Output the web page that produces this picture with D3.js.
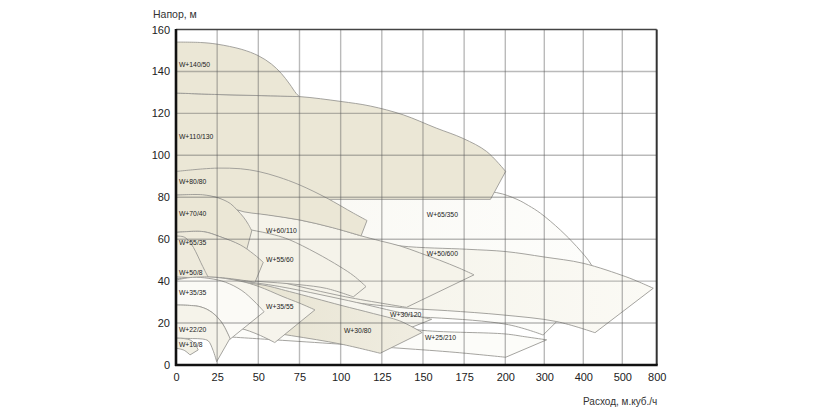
<!DOCTYPE html>
<html><head><meta charset="utf-8">
<script src="https://cdn.jsdelivr.net/npm/d3@7"></script>
<style>
body{margin:0;background:#fff;}
svg{display:block;font-family:"Liberation Sans",Arial,sans-serif;}
</style></head>
<body><svg id="c" width="825" height="418"></svg>
<script>
// ---- data (Q m3/h, H m) ----
const xTicks = [0,25,50,75,100,125,150,175,200,300,400,500,800];
const yTicks = [0,20,40,60,80,100,120,140,160];
const yTitle = "Напор, м";
const xTitle = "Расход, м.куб./ч";

const w65_350_top = [[0,81],[60,82],[120,83],[170,83],[194.8,82.2],[230,79],[260,76],[290,72.4],[341,64.4],[383,56.5],[421,47.7],[437,40]];
const w65_350_bot = [[0,27],[100,24.5],[200,19.5],[297,14.3]];
const w50_600_top = [[0,66],[50,65],[100,61.5],[136,56.8],[176.6,55.2],[201,54.1],[300,51.5],[400,48.5],[531,42.1],[650,39.5],[770,36.6]];
const w50_600_bot = [[0,39],[50,35.5],[100,30.5],[142,27],[165,25.9],[198,23.9],[332,20.7],[430,15.4]];
const w110_130_top = [[0,129.7],[25,129],[50,128.5],[75,128],[100,125.7],[118,123.5],[138,119.3],[158,113],[174.5,108],[188.7,101.8],[200.8,92.3]];
const w110_130_bot = [[0,79],[191,79]];
const w140_50_top = [[0,154],[15,153.8],[25,153],[40,150.5],[50,147.5],[58,143.5],[64,139],[69,134],[73,129.5],[75,128]];
const w140_50_bot = [[0,129.7],[25,129],[50,128.5],[75,128]];
const w60_110_top = [[0,76],[37,74],[56,71.7],[75,69.2],[95,65.6],[112.4,61.6],[124,59.2],[136,56.8],[148,53.5],[160,50],[172,46.2],[181,43]];
const w60_110_bot = [[0,50],[50,42],[100,33],[140,27.5]];
const w80_80_top = [[0,92.3],[16,93.5],[26,93.9],[39,93.6],[50,92.3],[62,89.7],[75,85.9],[91.6,79.6],[107.8,72.4],[116,68.9]];
const w80_80_bot = [[0,81],[26,79.6],[37,74],[56,71.5],[75,69.2],[95,65.5],[112.4,61.6]];
const w55_60_top = [[0,67],[30,66.5],[45,64.5],[60,62],[69,59.7],[85,53.5],[99.6,46.9],[108,42.5],[115.4,37.4]];
const w55_60_bot = [[0,41],[25,41.5],[48,40],[75,38.3],[91.5,36.5],[107.7,32.5]];
const w70_40_top = [[0,81],[16,81.2],[26,79.6],[33,77],[37,74],[41,70.5],[44,67],[46,64]];
const w70_40_bot = [[0,63.3],[16.6,63.6],[26.7,61.2],[35,58.5],[43,55.2]];
const w55_35_top = [[0,63.2],[16.6,63.6],[26.7,61.2],[39,57.3],[47,53],[53,49]];
const w55_35_bot = [[0,41.5],[25,41.8],[48,39.5]];
const w50_8_top = [[0,61.5],[5,61],[9,58],[12,54],[15,49],[17.5,45],[19.6,41.8]];
const w50_8_bot = [[0,41],[19,41.7]];
const w25_210_top = [[0,30],[60,26],[120,20],[150,16.5],[200,14.8],[250,13.5],[306,12]];
const w25_210_bot = [[0,15],[60,12],[136,8],[170,6],[201,3.7]];
const w30_120_top = [[0,42],[50,39],[100,31.5],[136,25],[155.3,21.8]];
const w30_120_bot = [[0,25],[70,22],[120,19],[140,17]];
const w30_80_top = [[0,41],[50,38.5],[69,35],[100,28.5],[120,24.5],[136,21],[149.5,15.5]];
const w30_80_bot = [[0,20],[39,17.5],[70,14],[100,10],[124,5.6]];
const w35_55_top = [[0,41],[20,42],[39,40],[50,37.5],[65,32.6],[75,29.5],[84.4,26.3]];
const w35_55_bot = [[0,20.2],[25,19],[39,17.5],[50,14.5],[60,10.7]];
const w35_35_top = [[0,40.5],[10,41.8],[20,41.3],[30,39.5],[40,35.5],[48,30],[53.5,25.4]];
const w35_35_bot = [[0,28.6],[14.6,27.8],[22,25],[28,20],[32.8,12.3]];
const w22_20_top = [[0,28.6],[14.6,27.8],[22,25],[28,20],[32.8,12.7]];
const w22_20_bot = [[0,12.8],[10,12.6],[16,12.4],[19.6,11.5],[22.5,7],[24.7,1.6]];
const w10_8_top = [[0,12.8],[5,12.6],[9,11.8],[11.5,10],[13.5,7.2]];
const w10_8_bot = [[0,8],[5,7],[8.5,4.8]];

// label anchor points (Q, H)
const labelNames = ["W+140/50","W+110/130","W+80/80","W+70/40","W+55/35","W+50/8","W+35/35","W+22/20","W+10/8",
  "W+60/110","W+55/60","W+35/55","W+30/80","W+30/120","W+25/210","W+50/600","W+65/350"];
const labelQ = [1.8,1.8,1.8,1.8,1.8,1.8,1.8,1.8,1.8,54.7,54.7,54.7,102,130,151.2,152.3,152.3];
const labelH = [143.2,108.8,87.4,72.1,58.2,43.9,34.4,16.7,9.5,64,50.1,27.8,16.4,23.9,13.2,53.3,71.6];

// ---- build ----
const regions = [
  {top:w65_350_top, bot:w65_350_bot, fill:"url(#g65)"},
  {top:w50_600_top, bot:w50_600_bot, fill:"url(#g50)"},
  {top:w110_130_top, bot:w110_130_bot, fill:"#ebe7d6"},
  {top:w140_50_top, bot:w140_50_bot, fill:"#ebe7d6"},
  {top:w60_110_top, bot:w60_110_bot, fill:"#f5f3ea"},
  {top:w80_80_top, bot:w80_80_bot, fill:"#ebe7d6"},
  {top:w55_60_top, bot:w55_60_bot, fill:"#f4f2e8"},
  {top:w70_40_top, bot:w70_40_bot, fill:"#ebe7d6"},
  {top:w55_35_top, bot:w55_35_bot, fill:"#eeeadb"},
  {top:w50_8_top, bot:w50_8_bot, fill:"#eeeadc"},
  {top:w25_210_top, bot:w25_210_bot, fill:"#fcfcf9"},
  {top:w30_120_top, bot:w30_120_bot, fill:"#f6f5ee"},
  {top:w30_80_top, bot:w30_80_bot, fill:"url(#g30)"},
  {top:w35_55_top, bot:w35_55_bot, fill:"#f6f4ec"},
  {top:w35_35_top, bot:w35_35_bot, fill:"#fbfaf6"},
  {top:w22_20_top, bot:w22_20_bot, fill:"#f5f3ea"},
  {top:w10_8_top, bot:w10_8_bot, fill:"#f2f0e5"}
];

const svg = d3.select("#c");
const x = d3.scaleLinear().domain([0,200,300,400,500,800]).range([176,505.3,544.3,583.3,622.3,656.7]);
const y = d3.scaleLinear().domain([0,160]).range([365,29.5]);

const defs = svg.append("defs");
function grad(id, c1, c2){
  const g = defs.append("linearGradient").attr("id",id).attr("x1",0).attr("x2",1).attr("y1",0).attr("y2",0);
  g.append("stop").attr("offset","0%").attr("stop-color",c1);
  g.append("stop").attr("offset","100%").attr("stop-color",c2);
}
grad("g65","#f8f7f1","#fdfdfb");
grad("g50","#f1efe3","#fbfaf5");
grad("g30","#e4e0cc","#f0ede1");

const lg = d3.line().x(d=>x(d[0])).y(d=>y(d[1])).curve(d3.curveCatmullRom.alpha(0.5));
function regionPath(top, bot){
  const a = lg(top);
  const b = lg(bot.slice().reverse());
  return a + "L" + b.slice(1) + "Z";
}

svg.append("g").selectAll("path").data(regions).join("path")
  .attr("d", d=>regionPath(d.top, d.bot))
  .attr("fill", d=>d.fill)
  .attr("stroke","#9b9a95").attr("stroke-width",0.9).attr("stroke-linejoin","round");

// grid on top
const grid = svg.append("g").attr("stroke","rgba(90,90,90,0.42)").attr("stroke-width",1.4);
grid.selectAll("line.v").data(xTicks.slice(1,-1)).join("line")
  .attr("x1",d=>x(d)).attr("x2",d=>x(d)).attr("y1",y(160)).attr("y2",y(0));
grid.selectAll("line.h").data(yTicks.slice(1,-1)).join("line").attr("class","h")
  .attr("x1",x(0)).attr("x2",x(800)).attr("y1",d=>y(d)).attr("y2",d=>y(d));

// frame
svg.append("line").attr("x1",x(0)).attr("x2",x(800)).attr("y1",y(160)).attr("y2",y(160)).attr("stroke","#444").attr("stroke-width",1.3);
svg.append("line").attr("x1",x(800)).attr("x2",x(800)).attr("y1",y(160)).attr("y2",y(0)).attr("stroke","#333").attr("stroke-width",2);
svg.append("line").attr("x1",x(0)).attr("x2",x(0)).attr("y1",y(160)-0.5).attr("y2",y(0)+1).attr("stroke","#111").attr("stroke-width",2.6);
svg.append("line").attr("x1",x(0)-1).attr("x2",x(800)+1).attr("y1",y(0)).attr("y2",y(0)).attr("stroke","#111").attr("stroke-width",2.4);

// axes labels via d3 axes
const ax = svg.append("g").attr("transform",`translate(0,${y(0)})`)
  .call(d3.axisBottom(x).tickValues(xTicks).tickSize(0).tickPadding(8).tickFormat(d3.format("d")));
ax.select(".domain").remove();
ax.selectAll("text").attr("font-size",11).attr("fill","#222").attr("font-family","Liberation Sans, Arial, sans-serif");
const ay = svg.append("g").attr("transform",`translate(${x(0)},0)`)
  .call(d3.axisLeft(y).tickValues(yTicks).tickSize(0).tickPadding(6).tickFormat(d3.format("d")));
ay.select(".domain").remove();
ay.selectAll("text").attr("font-size",11).attr("fill","#222").attr("font-family","Liberation Sans, Arial, sans-serif");

svg.append("text").attr("x",153).attr("y",18).attr("font-size",10.5).attr("fill","#333").text(yTitle);
svg.append("text").attr("x",583).attr("y",405).attr("font-size",10).attr("fill","#333").text(xTitle);

// region labels
svg.append("g").selectAll("text").data(labelNames).join("text")
  .attr("x",(d,i)=>x(labelQ[i])).attr("y",(d,i)=>y(labelH[i])).attr("dy","0.35em")
  .attr("font-size",6.8).attr("fill","#222").text(d=>d);
</script></body></html>
